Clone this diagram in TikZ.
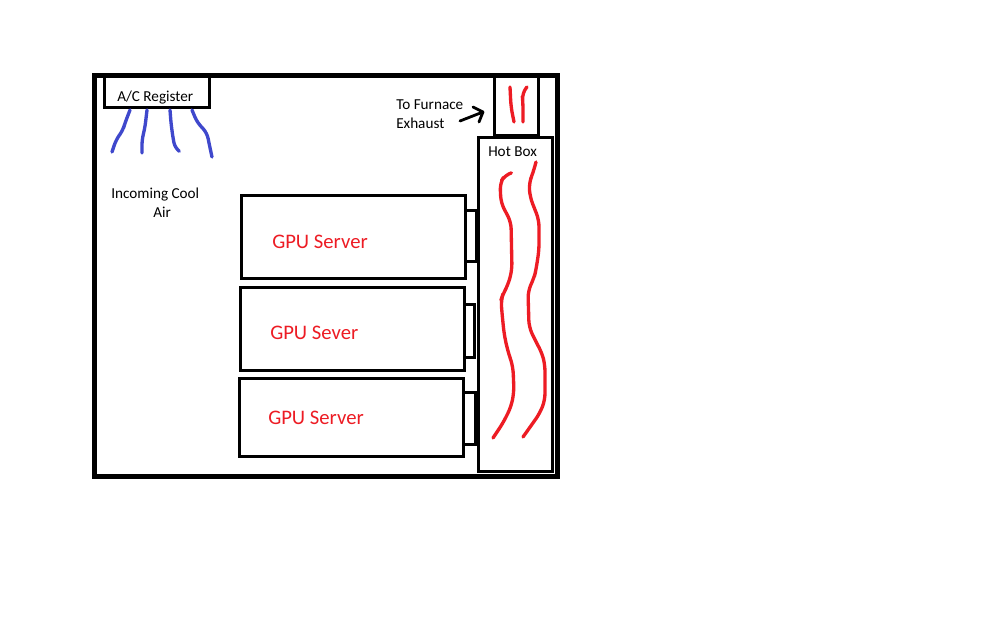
\documentclass[tikz,border=0pt]{standalone}
\usepackage{fontspec}
\setmainfont{Carlito}
\definecolor{msred}{HTML}{ED1C24}
\definecolor{msblue}{HTML}{3F48CC}
\tikzset{
  box/.style={draw=black,line width=2.25pt,line join=miter},
  frame/.style={draw=black,line width=3.9pt,line join=miter},
  hotline/.style={draw=msred,line width=2.5pt,line join=round,line cap=round,rounded corners=5pt},
  coolline/.style={draw=msblue,line width=2.5pt,line join=round,line cap=round,rounded corners=4pt},
  small/.style={inner sep=0pt,anchor=west,font=\fontsize{11.4pt}{13pt}\selectfont},
  big/.style={inner sep=0pt,anchor=west,text=msred,font=\fontsize{15.5pt}{18pt}\selectfont},
}
\begin{document}
\begin{tikzpicture}[x=0.75pt,y=-0.75pt]
\useasboundingbox (0,0) rectangle (1008,630);
\fill[white] (0,0) rectangle (1008,630);
% room
\draw[frame] (94.5,75.5) rectangle (557.5,476.5);
% register and chimney
\draw[box] (104.5,76) rectangle (209,108);
\draw[box] (494,76) rectangle (538.5,136);
% hot box
\draw[box] (478.5,137.5) rectangle (552,472);
% servers
\draw[box] (241,196) rectangle (465.5,278.5);
\draw[box] (240,288) rectangle (464.5,371);
\draw[box] (239,379) rectangle (463.5,457);
\draw[box] (465.5,211) rectangle (476.5,262);
\draw[box] (464.5,305) rectangle (474.5,358);
\draw[box] (463.5,393) rectangle (476,445);
\fill[black] (474,391.5) rectangle (479,446.5);
% labels
\node[small] (reg) at (117,97.5) {A/C Register};
\node[small] (cool) at (111,194.5) {Incoming Cool};
\node[small] (air) at (153,212.5) {Air};
\node[small] (furn) at (396,105) {To Furnace};
\node[small] (exh) at (396,123) {Exhaust};
\node[small] (hot) at (488,152) {Hot Box};
\node[big] (s1) at (272,241.5) {GPU Server};
\node[big] (s2) at (270,332.5) {GPU Sever};
\node[big] (s3) at (268,417.5) {GPU Server};
% cool air
\draw[coolline] (130,110) -- (125,123) -- (123,130) -- (116,140) -- (112,152);
\draw[coolline] (147,110) -- (145,127) -- (142,140) -- (142,153);
\draw[coolline] (170,110) -- (171,123) -- (173,138) -- (175,148) -- (179,151);
\draw[coolline] (192,110) -- (197,122) -- (207,133) -- (209,143) -- (212,157);
% hot air
\draw[hotline] (510,87) -- (511,107) -- (514,122);
\draw[hotline] (527,87) -- (522,93) -- (523,103) -- (523,122);
\draw[hotline] (511,173) -- (505,175) -- (500,183) -- (501,203) -- (511,222) -- (512,270) -- (508,285) -- (503,294) -- (501,300) -- (502,313) -- (504,333) -- (507,348) -- (513,367) -- (514,392) -- (511,407) -- (503,423) -- (493,438);
\draw[hotline] (536,162) -- (533,173) -- (529,183) -- (530,197) -- (539,220) -- (539,250) -- (536,270) -- (534,278) -- (528,291) -- (529,327) -- (535,340) -- (542,353) -- (545,365) -- (545,400) -- (540,413) -- (528,430) -- (523,437);
% arrow
\draw[black,line width=2.1pt,line join=round,line cap=round] (460,121) -- (483,112) -- (473,107) (483,112) -- (479,122);
\end{tikzpicture}
\end{document}
